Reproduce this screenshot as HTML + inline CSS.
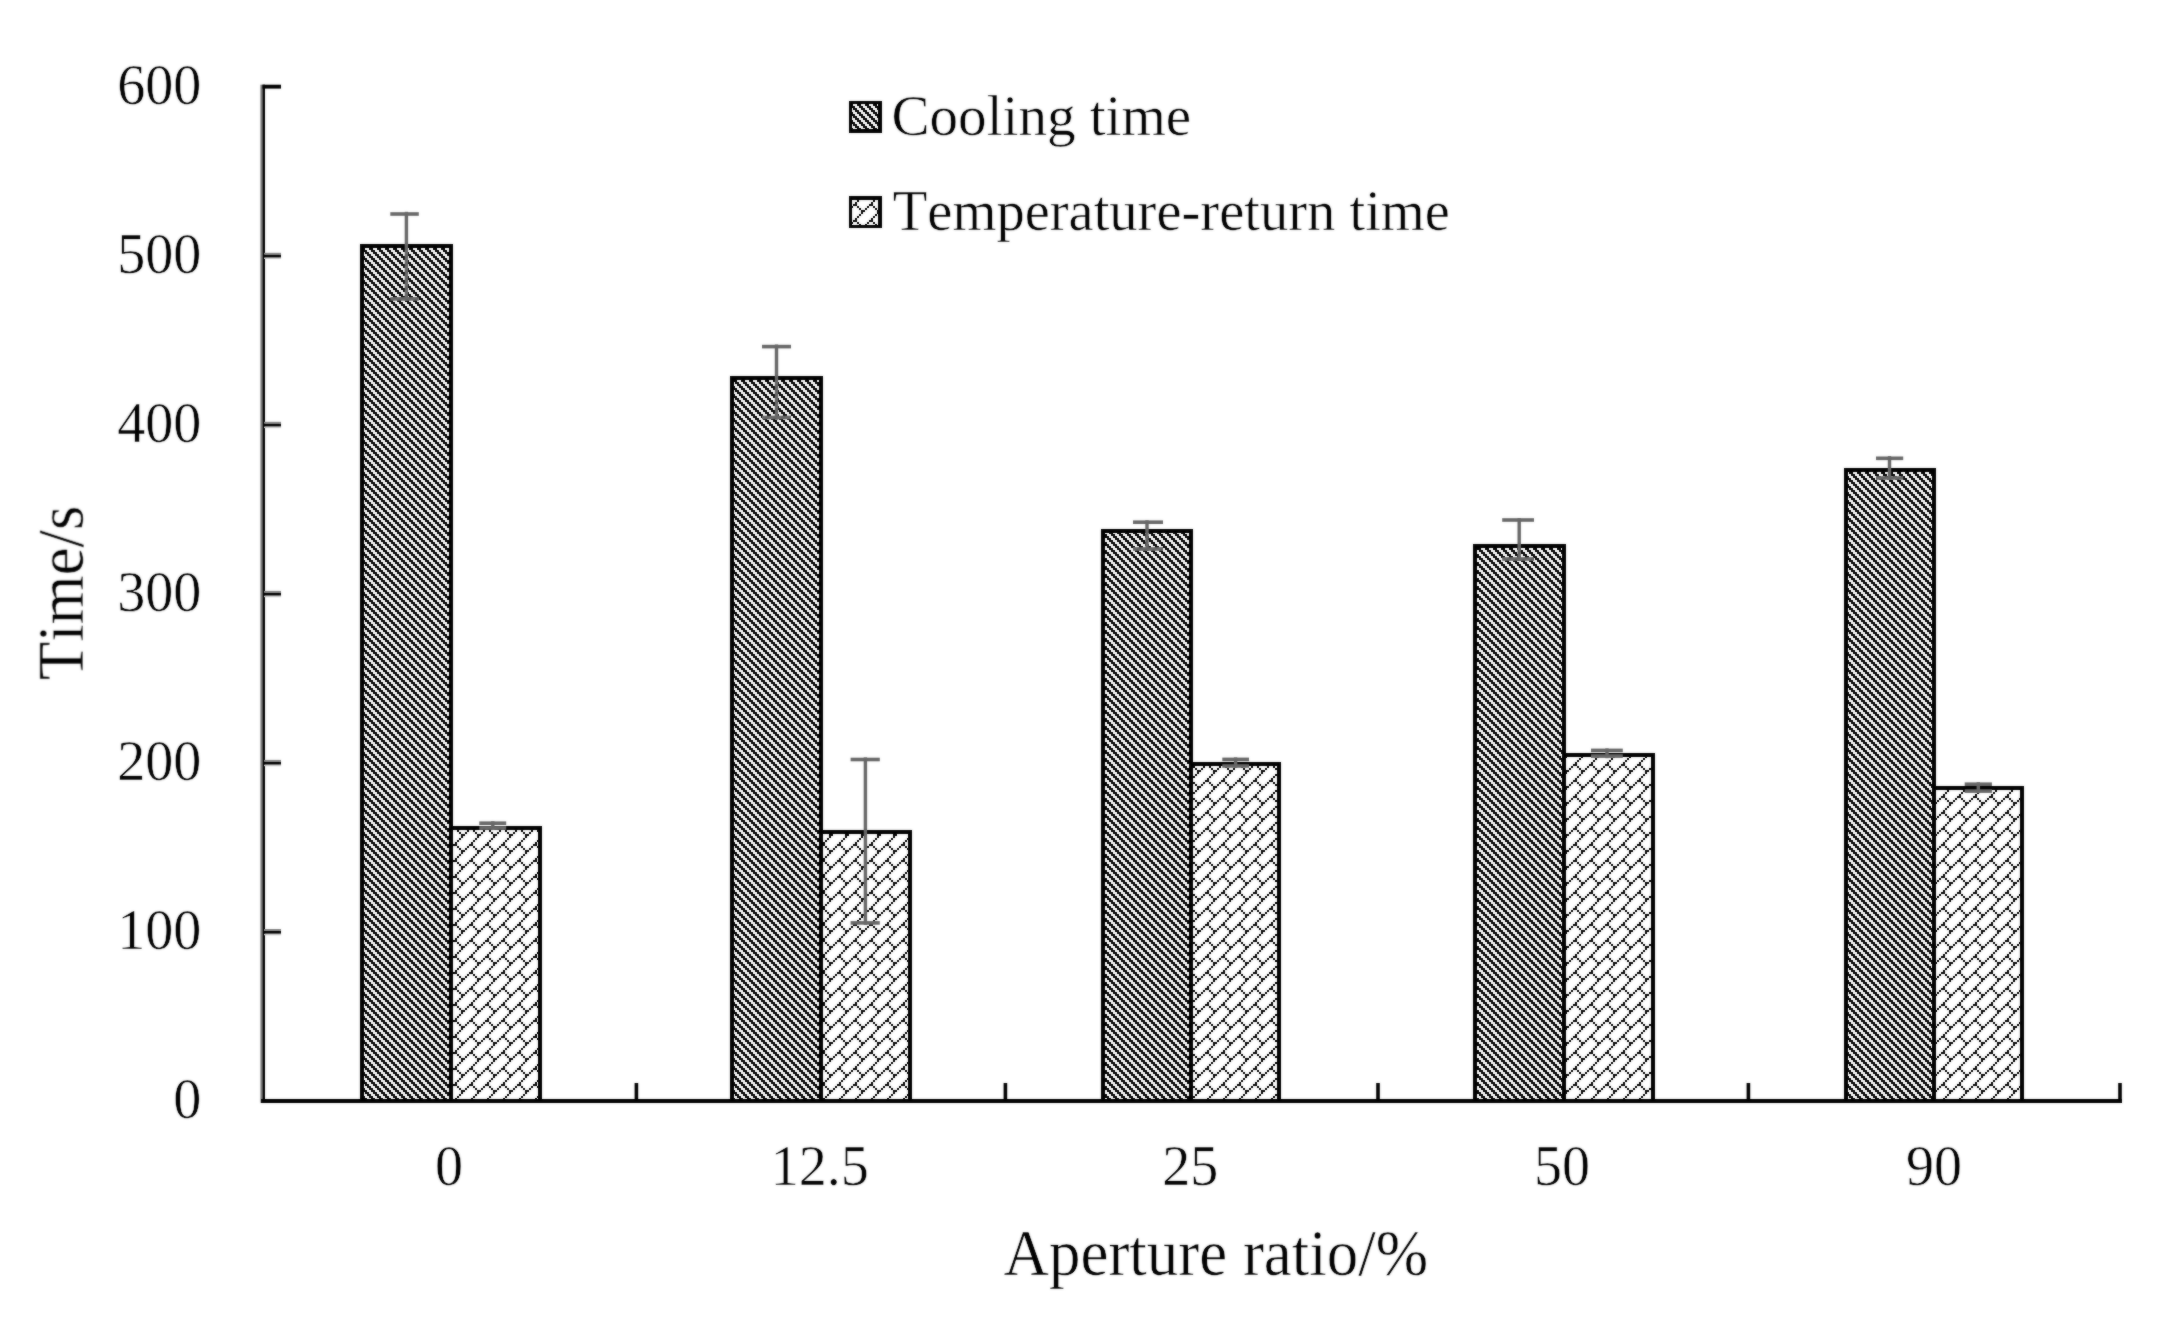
<!DOCTYPE html>
<html lang="en">
<head>
<meta charset="utf-8">
<title>Cooling time and temperature-return time vs aperture ratio</title>
<style>
html,body{margin:0;padding:0;background:#fff;}
body{width:2174px;height:1323px;overflow:hidden;}
svg{display:block;}
text{font-family:"Liberation Serif", "Times New Roman", serif;fill:#000;font-kerning:none;stroke:#fff;stroke-width:0.5px;}
</style>
</head>
<body>
<svg width="2174" height="1323" viewBox="0 0 2174 1323">
<defs>
<filter id="soft" x="0" y="0" width="2174" height="1323" filterUnits="userSpaceOnUse" color-interpolation-filters="sRGB"><feGaussianBlur in="SourceGraphic" stdDeviation="0.85" result="b"/><feComposite in="SourceGraphic" in2="b" operator="arithmetic" k1="0" k2="0.55" k3="0.45" k4="0"/></filter>
<pattern id="pd" width="8" height="8" patternUnits="userSpaceOnUse" x="1" y="0">
<rect width="8" height="8" fill="#fff"/>
<rect x="0" y="0" width="2" height="2" fill="#000"/><rect x="2" y="0" width="2" height="2" fill="#000"/><rect x="2" y="2" width="2" height="2" fill="#000"/><rect x="4" y="2" width="2" height="2" fill="#000"/><rect x="4" y="4" width="2" height="2" fill="#000"/><rect x="6" y="4" width="2" height="2" fill="#000"/><rect x="0" y="6" width="2" height="2" fill="#000"/><rect x="6" y="6" width="2" height="2" fill="#000"/>
</pattern>
<pattern id="pl" width="16" height="16" patternUnits="userSpaceOnUse" x="15" y="4">
<rect width="16" height="16" fill="#fff"/>
<rect x="14" y="0" width="2" height="2" fill="#000"/><rect x="12" y="2" width="2" height="2" fill="#000"/><rect x="10" y="4" width="2" height="2" fill="#000"/><rect x="8" y="6" width="2" height="2" fill="#000"/><rect x="6" y="8" width="2" height="2" fill="#000"/><rect x="8" y="8" width="2" height="2" fill="#000"/><rect x="4" y="10" width="2" height="2" fill="#000"/><rect x="10" y="10" width="2" height="2" fill="#000"/><rect x="2" y="12" width="2" height="2" fill="#000"/><rect x="12" y="12" width="2" height="2" fill="#000"/><rect x="0" y="14" width="2" height="2" fill="#000"/><rect x="14" y="14" width="2" height="2" fill="#000"/>
</pattern>
</defs>
<rect width="2174" height="1323" fill="#fff"/>
<g filter="url(#soft)">
<g stroke="#000" stroke-width="4" shape-rendering="crispEdges">
<rect x="362.0" y="246.2" width="89.0" height="854.8" fill="url(#pd)"/>
<rect x="451.0" y="828.0" width="88.5" height="273.0" fill="url(#pl)"/>
<rect x="732.0" y="378.4" width="89.0" height="722.6" fill="url(#pd)"/>
<rect x="821.0" y="831.8" width="89.0" height="269.2" fill="url(#pl)"/>
<rect x="1103.0" y="531.3" width="88.4" height="569.7" fill="url(#pd)"/>
<rect x="1191.4" y="763.7" width="87.8" height="337.3" fill="url(#pl)"/>
<rect x="1474.7" y="545.5" width="89.1" height="555.5" fill="url(#pd)"/>
<rect x="1563.8" y="754.8" width="89.2" height="346.2" fill="url(#pl)"/>
<rect x="1845.8" y="469.5" width="87.8" height="631.5" fill="url(#pd)"/>
<rect x="1933.6" y="787.5" width="88.6" height="313.5" fill="url(#pl)"/>
</g>
<g fill="#000">
<rect x="260.4" y="84.7" width="2.2" height="1018.3" fill="#7c7c7c"/>
<rect x="262.5" y="84.7" width="2.5" height="1018.3"/>
<rect x="261" y="1099.0" width="1861.0" height="4"/>
<rect x="262.5" y="84.7" width="18.5" height="3.9"/>
<rect x="264" y="252.8" width="17" height="2" fill="#8a8a8a"/><rect x="264" y="257.2" width="17" height="1.8" fill="#cfcfcf"/><rect x="263" y="254.8" width="18" height="2.6"/>
<rect x="264" y="421.8" width="17" height="2" fill="#8a8a8a"/><rect x="264" y="426.3" width="17" height="1.8" fill="#cfcfcf"/><rect x="263" y="423.8" width="18" height="2.6"/>
<rect x="264" y="590.9" width="17" height="2" fill="#8a8a8a"/><rect x="264" y="595.4" width="17" height="1.8" fill="#cfcfcf"/><rect x="263" y="592.9" width="18" height="2.6"/>
<rect x="264" y="759.9" width="17" height="2" fill="#8a8a8a"/><rect x="264" y="764.4" width="17" height="1.8" fill="#cfcfcf"/><rect x="263" y="761.9" width="18" height="2.6"/>
<rect x="264" y="929.0" width="17" height="2" fill="#8a8a8a"/><rect x="264" y="933.5" width="17" height="1.8" fill="#cfcfcf"/><rect x="263" y="931.0" width="18" height="2.6"/>
<rect x="634.6" y="1083" width="3.6" height="18"/>
<rect x="1003.6" y="1083" width="3.6" height="18"/>
<rect x="1376.2" y="1083" width="3.6" height="18"/>
<rect x="1746.6" y="1083" width="3.6" height="18"/>
<rect x="2118.2" y="1083" width="3.6" height="18"/>
</g>
<g fill="#666666">
<rect x="404.7" y="211.8" width="3.4" height="89.0"/><rect x="390.3" y="212.2" width="28.5" height="3.6"/><rect x="390.3" y="297.1" width="28.5" height="3.6"/>
<rect x="774.8" y="344.5" width="3.4" height="75.2"/><rect x="762.0" y="344.8" width="29.0" height="3.6"/><rect x="762.0" y="415.7" width="29.0" height="3.6"/>
<rect x="1145.3" y="520.2" width="3.4" height="30.8"/><rect x="1133.0" y="520.4" width="30.0" height="3.6"/><rect x="1133.0" y="547.2" width="30.0" height="3.6"/>
<rect x="1517.5" y="518.0" width="3.4" height="43.0"/><rect x="1502.2" y="518.2" width="31.8" height="3.6"/><rect x="1502.2" y="557.2" width="31.8" height="3.6"/>
<rect x="1887.8" y="456.1" width="3.4" height="23.9"/><rect x="1876.0" y="456.5" width="27.2" height="3.6"/><rect x="1876.0" y="476.2" width="27.2" height="3.6"/>
<rect x="491.1" y="821.2" width="3.4" height="8.8"/><rect x="479.3" y="821.4" width="26.9" height="3.6"/><rect x="479.3" y="826.2" width="26.9" height="3.6"/>
<rect x="863.7" y="757.4" width="3.4" height="167.6"/><rect x="850.6" y="757.7" width="29.2" height="3.6"/><rect x="850.6" y="921.1" width="29.2" height="3.6"/>
<rect x="1233.9" y="757.4" width="3.4" height="10.6"/><rect x="1222.3" y="757.6" width="26.7" height="3.6"/><rect x="1222.3" y="764.2" width="26.7" height="3.6"/>
<rect x="1605.3" y="748.4" width="3.4" height="9.8"/><rect x="1591.0" y="748.6" width="31.8" height="3.6"/><rect x="1591.0" y="754.3" width="31.8" height="3.6"/>
<rect x="1976.6" y="782.2" width="3.4" height="11.0"/><rect x="1964.7" y="782.4" width="27.2" height="3.6"/><rect x="1964.7" y="789.3" width="27.2" height="3.6"/>
</g>
<g font-size="58" text-anchor="end">
<text x="201.4" y="103.6" textLength="84.2" lengthAdjust="spacingAndGlyphs">600</text>
<text x="201.4" y="272.6" textLength="84.2" lengthAdjust="spacingAndGlyphs">500</text>
<text x="201.4" y="441.7" textLength="84.2" lengthAdjust="spacingAndGlyphs">400</text>
<text x="201.4" y="610.8" textLength="84.2" lengthAdjust="spacingAndGlyphs">300</text>
<text x="201.4" y="779.8" textLength="84.2" lengthAdjust="spacingAndGlyphs">200</text>
<text x="201.4" y="948.9" textLength="84.2" lengthAdjust="spacingAndGlyphs">100</text>
<text x="201.4" y="1117.9" textLength="28.1" lengthAdjust="spacingAndGlyphs">0</text>
</g>
<g font-size="58" text-anchor="middle">
<text x="449.0" y="1184.5" textLength="28.1" lengthAdjust="spacingAndGlyphs">0</text>
<text x="819.8" y="1184.5" textLength="98.2" lengthAdjust="spacingAndGlyphs">12.5</text>
<text x="1190.3" y="1184.5" textLength="56.1" lengthAdjust="spacingAndGlyphs">25</text>
<text x="1562.0" y="1184.5" textLength="56.1" lengthAdjust="spacingAndGlyphs">50</text>
<text x="1934.0" y="1184.5" textLength="56.1" lengthAdjust="spacingAndGlyphs">90</text>
</g>
<text x="1003.6" y="1274.5" font-size="66" textLength="424.5" lengthAdjust="spacingAndGlyphs">Aperture ratio/%</text>
<text transform="translate(82.8 592.8) rotate(-90)" font-size="66" text-anchor="middle" textLength="174.6" lengthAdjust="spacingAndGlyphs">Time/s</text>
<g stroke="#000" stroke-width="3.5" shape-rendering="crispEdges">
<rect x="850.5" y="102.3" width="29.5" height="28.5" fill="url(#pd)"/>
<rect x="850.5" y="197.8" width="29.5" height="28.5" fill="url(#pl)"/>
</g>
<text x="891.5" y="134.8" font-size="58" textLength="299.7" lengthAdjust="spacingAndGlyphs">Cooling time</text>
<text x="892.8" y="230" font-size="58" textLength="557.1" lengthAdjust="spacingAndGlyphs">Temperature-return time</text>
</g>
</svg>
</body>
</html>
